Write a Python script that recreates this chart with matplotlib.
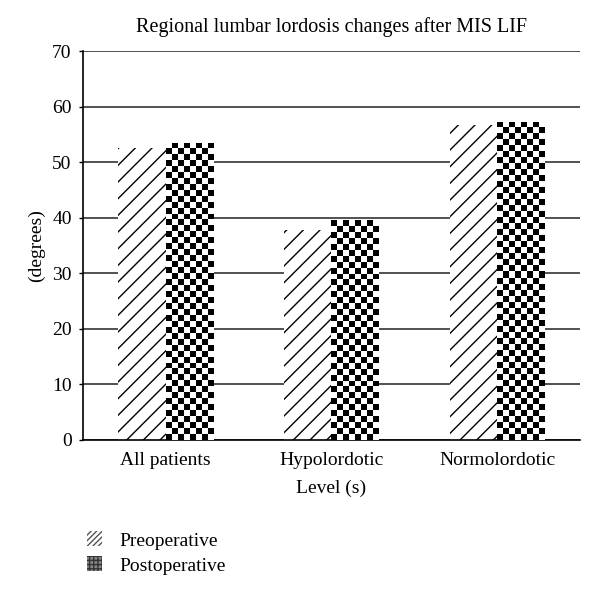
import numpy as np
import matplotlib.pyplot as plt
from matplotlib.patches import Patch

plt.rcParams["font.family"] = ["Liberation Serif", "DejaVu Serif"]
plt.rcParams["hatch.linewidth"] = 1.0

groups = ["All patients", "Hypolordotic", "Normolordotic"]
preop = [52.5, 37.7, 56.7]
postop = [53.5, 39.5, 57.3]
yticks = [0, 10, 20, 30, 40, 50, 60, 70]

fig = plt.figure(figsize=(6, 5.94), dpi=100)
ax = fig.add_axes([0.138, 0.2593, 0.829, 0.6548])

x = np.arange(len(groups))
w = 0.285

for i in x:
    ax.bar(i - w / 2, preop[i], w, facecolor="white", edgecolor="black",
           hatch="//", linewidth=0, zorder=2)
    bar = ax.bar(i + w / 2, postop[i], w, facecolor="white", edgecolor="none",
                 linewidth=0, zorder=2)[0]
    # checkerboard fill, ~6 px cells
    ncols = 8
    nrows = int(round(postop[i] * 5.557 / 6))
    board = np.indices((nrows, ncols)).sum(axis=0) % 2
    im = ax.imshow(board, cmap="gray", interpolation="nearest", aspect="auto",
                   extent=[i, i + w, 0, postop[i]], origin="lower", zorder=3)
    im.set_clip_path(bar)

ax.set_xlim(-0.5, 2.5)
ax.set_ylim(0, 70)
ax.set_yticks(yticks)
ax.yaxis.grid(True, color="#333333", linewidth=1.2)
ax.set_axisbelow(True)
ax.set_xticks(x)
ax.set_xticklabels(groups, fontsize=14)
ax.tick_params(axis="x", length=0, pad=9)
ax.tick_params(axis="y", labelsize=14, length=3, width=1, direction="out", pad=5)
for s in ["top", "right"]:
    ax.spines[s].set_visible(False)
for s in ["left", "bottom"]:
    ax.spines[s].set_linewidth(1.2)

ax.set_title("Regional lumbar lordosis changes after MIS LIF", fontsize=14.5, pad=14)
ax.set_xlabel("Level (s)", fontsize=14, labelpad=7)
ax.set_ylabel("(degrees)", fontsize=14, labelpad=5)

handles = [
    Patch(facecolor="white", edgecolor="#555555", hatch="//////", linewidth=0),
    Patch(facecolor="#888888", edgecolor="#333333", hatch="++++", linewidth=0),
]
fig.legend(handles, ["Preoperative", "Postoperative"], loc="upper left",
           bbox_to_anchor=(0.115, 0.135), frameon=False, fontsize=14,
           handlelength=0.8, handleheight=0.8, handletextpad=0.9, labelspacing=0.35)

fig.savefig("out.png", dpi=100)
